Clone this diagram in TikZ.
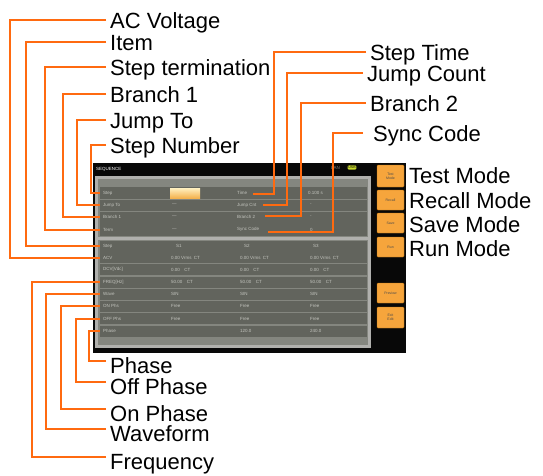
\documentclass[tikz,border=0pt]{standalone}
\usepackage{fontspec}
\setmainfont{Liberation Sans}
\usetikzlibrary{positioning,calc}
\definecolor{Callout}{HTML}{FF6A10}
\definecolor{ScreenBk}{HTML}{080808}
\definecolor{PanelC}{HTML}{B0B0AD}
\definecolor{PanelIn}{HTML}{84867F}
\definecolor{RowC}{HTML}{62645D}
\definecolor{CellTxt}{HTML}{C4C5BF}
\definecolor{KeyC}{HTML}{F6A53C}
\definecolor{KeyEdge}{HTML}{B8700F}
\definecolor{FieldHi}{HTML}{FFF0C0}
\definecolor{FieldLo}{HTML}{F4B24E}
\definecolor{BadgeC}{HTML}{C9DA2E}

\tikzset{
  callout/.style={draw=Callout, line width=2pt},
  tag/.style={font=\fontsize{22}{26}\selectfont, anchor=west, inner xsep=4pt, inner ysep=0pt, text height=16pt, text depth=0pt},
  tagdown/.style={tag, text height=24pt},
  rowbar/.style={fill=RowC, anchor=west, minimum width=267pt, inner sep=0pt},
  cell/.style={font=\fontsize{4.5}{5}\selectfont, text=CellTxt, anchor=west, inner sep=0pt},
  softkey/.style={draw=KeyEdge, fill=KeyC, minimum width=27pt, rounded corners=1pt, font=\fontsize{3.5}{4}\selectfont, text=black!70, align=center, inner sep=0pt}
}

\begin{document}
\begin{tikzpicture}[x=1pt, y=-1pt]
\useasboundingbox[fill=white] (0,0) rectangle (543,475);

% screen
\fill[ScreenBk] (93,163) rectangle (406,353);
\fill[PanelC] (95,176) rectangle (371,348);
\fill[PanelIn] (98,179) rectangle (368,345);
\fill[PanelC] (98,236.5) rectangle (368,239.5);
\node[cell, text=white] (title) at (96,169) {SEQUENCE};
\node[cell, text=gray] (lan) at (331,167.5) {LAN};
\node[fill=BadgeC, rounded corners=1pt, inner sep=0.8pt, font=\fontsize{3.5}{4}\selectfont] (usb) at (352,167.5) {USB};

% rows
\foreach \name/\y/\h/\txt in {step/193/11.5/Step, jump/205/11/Jump To, br1/217/11/Branch 1, term/229.5/12.5/Term,
    item/246/11/Step, acv/257.5/11/ACV, dcv/269.5/11/{DCV[Vdc]}, freq/282/11/{FREQ[Hz]},
    wave/294/11/Wave, onph/306/11/ON Phs, offph/318.5/11/OFF Phs, phase/331/11/Phase}
{
  \node[rowbar, minimum height=\h pt] (r-\name) at (100,\y) {};
  \node[cell, right=3pt of r-\name.west] {\txt};
}

% top section cells
\node[anchor=west, minimum width=30pt, minimum height=10pt, inner sep=0pt, top color=FieldHi, bottom color=FieldLo] (f-step) at (170,193) {};
\node[cell] (v-jump) at (172,205) {---};
\node[cell] (v-br1) at (172,217) {---};
\node[cell] (v-term) at (172,229.5) {---};
\node[cell] (c-time) at (237,193) {Time};
\node[cell] (c-cnt) at (237,205) {Jump Cnt};
\node[cell] (c-br2) at (237,217) {Branch 2};
\node[cell] (c-sync) at (237,229.5) {Sync Code};
\node[cell] (v-time) at (308,193) {0.100 s};
\node[cell] (v-cnt) at (310,205) {-};
\node[cell] (v-br2) at (310,217) {-};
\node[cell] (v-sync) at (310,229.5) {0};

% bottom section cells
\node[cell] at (176,246) {S1};
\node[cell] at (244,246) {S2};
\node[cell] at (313,246) {S3};
\foreach \cx in {171,240,310} {
  \node[cell] at (\cx,257.5) {0.00 Vrms\enspace CT};
  \node[cell] at (\cx,269.5) {0.00\quad CT};
  \node[cell] at (\cx,282) {50.00\quad CT};
  \node[cell] at (\cx,294) {SIN};
  \node[cell] at (\cx,306) {Free};
  \node[cell] at (\cx,318.5) {Free};
}
\node[cell] at (240,331) {120.0};
\node[cell] at (310,331) {240.0};

% soft keys
\foreach \name/\y/\h/\txt in {test/176/22/{Test\\Mode}, recall/200/20/Recall, save/223/20/Save,
    run/247/20/Run, preview/293/20/Preview, exit/317.5/21/{Exit\\Edit}}
  \node[softkey, minimum height=\h pt] (k-\name) at (390.5,\y) {\txt};

% labels
\node[tag] (t-acv) at (106,20) {AC Voltage};
\node[tag] (t-item) at (106,42) {Item};
\node[tag] (t-term) at (106,67) {Step termination};
\node[tag] (t-br1) at (106,94) {Branch 1};
\node[tag] (t-jump) at (106,120) {Jump To};
\node[tag] (t-stepno) at (106,145) {Step Number};

\node[tag] (t-time) at (366,52) {Step Time};
\node[tag] (t-cnt) at (363,73) {Jump Count};
\node[tag] (t-br2) at (366,103) {Branch 2};
\node[tag, inner xsep=10pt] (t-sync) at (363,133) {Sync Code};

\node[tag] (t-testmode) at (405,175) {Test Mode};
\node[tag] (t-recall) at (405,200.5) {Recall Mode};
\node[tag] (t-save) at (405,224.5) {Save Mode};
\node[tag] (t-run) at (405,248.5) {Run Mode};

\node[tagdown] (t-phase) at (106,361) {Phase};
\node[tagdown] (t-offph) at (106,382) {Off Phase};
\node[tagdown] (t-onph) at (106,409) {On Phase};
\node[tagdown] (t-wave) at (106,429) {Waveform};
\node[tagdown] (t-freq) at (106,457) {Frequency};

% callouts
\draw[callout] (t-acv.west) -| ([xshift=-90pt]r-acv.west) -- (r-acv.west);
\draw[callout] (t-item.west) -| ([xshift=-74pt]r-item.west) -- (r-item.west);
\draw[callout] (t-term.west) -| ([xshift=-55pt]r-term.west) -- (r-term.west);
\draw[callout] (t-br1.west) -| ([xshift=-37pt]r-br1.west) -- (r-br1.west);
\draw[callout] (t-jump.west) -| ([xshift=-23pt]r-jump.west) -- (r-jump.west);
\draw[callout] (t-stepno.west) -| ([xshift=-9pt]r-step.west) -- (r-step.west);

\coordinate (p-time) at (253,194);
\coordinate (p-cnt) at (263,205);
\coordinate (p-br2) at (265,216);
\coordinate (p-sync) at (268,232);
\draw[callout] (t-time.west) -| ([xshift=21pt]p-time) -- (p-time);
\draw[callout] (t-cnt.west) -| ([xshift=24pt]p-cnt) -- (p-cnt);
\draw[callout] (t-br2.west) -| ([xshift=36pt]p-br2) -- (p-br2);
\draw[callout] (t-sync.west) -| ([xshift=65pt]p-sync) -- (p-sync);

\draw[callout] (t-phase.west) -| ([xshift=-11pt]r-phase.west) -- (r-phase.west);
\draw[callout] (t-offph.west) -| ([xshift=-24pt]r-offph.west) -- (r-offph.west);
\draw[callout] (t-onph.west) -| ([xshift=-39pt]r-onph.west) -- (r-onph.west);
\draw[callout] (t-wave.west) -| ([xshift=-54pt]r-wave.west) -- (r-wave.west);
\draw[callout] (t-freq.west) -| ([xshift=-68pt]r-freq.west) -- (r-freq.west);
\end{tikzpicture}
\end{document}
